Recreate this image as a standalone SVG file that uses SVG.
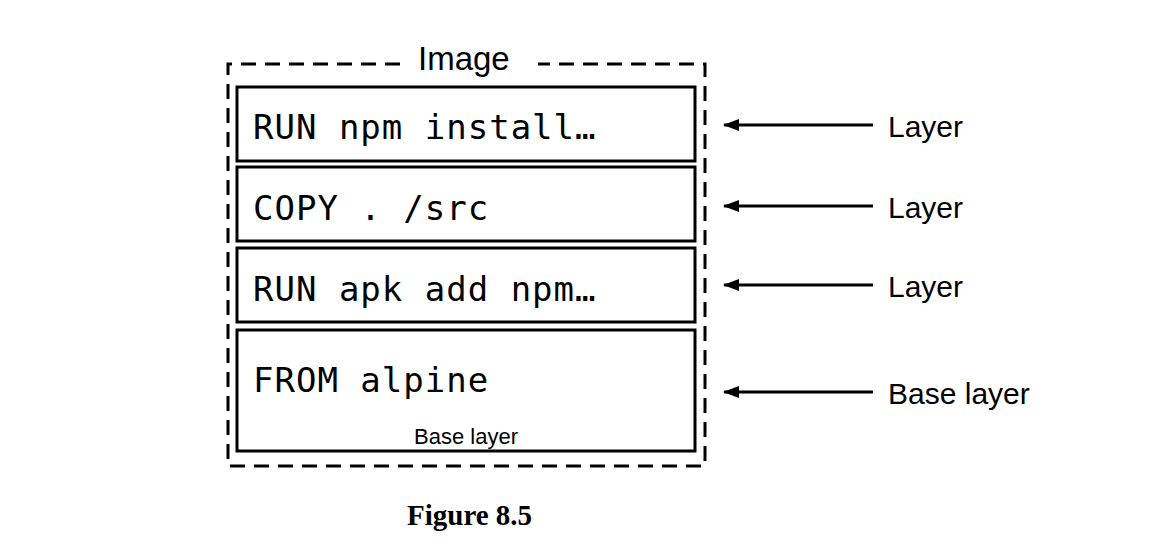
<svg xmlns="http://www.w3.org/2000/svg" width="1154" height="551" viewBox="0 0 1154 551">
<style>
.box{fill:#fff;stroke:#000;stroke-width:3}
.dash{fill:none;stroke:#000;stroke-width:3;stroke-dasharray:15 9}
.mono{font-family:"DejaVu Sans Mono","Liberation Mono",monospace;font-size:34px;fill:#000;letter-spacing:1px}
.sans{font-family:"Liberation Sans","DejaVu Sans",sans-serif;fill:#000}
.conn{stroke:#000;stroke-width:3;fill:none;marker-end:url(#ah)}
</style>
<defs>
<marker id="ah" markerUnits="userSpaceOnUse" markerWidth="16" markerHeight="12" refX="15" refY="6" orient="auto">
<path d="M0,0 L16,6 L0,12 Z" fill="#000"/>
</marker>
</defs>
<rect width="1154" height="551" fill="#fff"/>
<g id="image">
<path class="dash" d="M400,64 L228,64 L228,466 L705,466 L705,64 L538,64"/>
<text class="sans" x="418" y="70" font-size="33">Image</text>
</g>
<g id="layer1">
<rect class="box" x="237" y="87" width="458" height="74"/>
<text class="mono" x="253" y="139">RUN npm install…</text>
</g>
<g id="layer2">
<rect class="box" x="237" y="167" width="458" height="74"/>
<text class="mono" x="253" y="220">COPY . /src</text>
</g>
<g id="layer3">
<rect class="box" x="237" y="248" width="458" height="74"/>
<text class="mono" x="253" y="301">RUN apk add npm…</text>
</g>
<g id="layer4">
<rect class="box" x="237" y="330" width="458" height="121"/>
<text class="mono" x="253" y="392">FROM alpine</text>
<text class="sans" x="466" y="444" font-size="22" text-anchor="middle">Base layer</text>
</g>
<g id="connectors">
<line class="conn" x1="873" y1="125" x2="724" y2="125"/>
<line class="conn" x1="873" y1="206" x2="724" y2="206"/>
<line class="conn" x1="873" y1="285" x2="724" y2="285"/>
<line class="conn" x1="873" y1="392" x2="724" y2="392"/>
</g>
<g id="labels">
<text class="sans" x="888" y="137" font-size="30">Layer</text>
<text class="sans" x="888" y="218" font-size="30">Layer</text>
<text class="sans" x="888" y="297" font-size="30">Layer</text>
<text class="sans" x="888" y="404" font-size="30">Base layer</text>
</g>
<text id="caption" x="407" y="525" font-family="Liberation Serif,serif" font-weight="bold" font-size="29">Figure 8.5</text>
</svg>
